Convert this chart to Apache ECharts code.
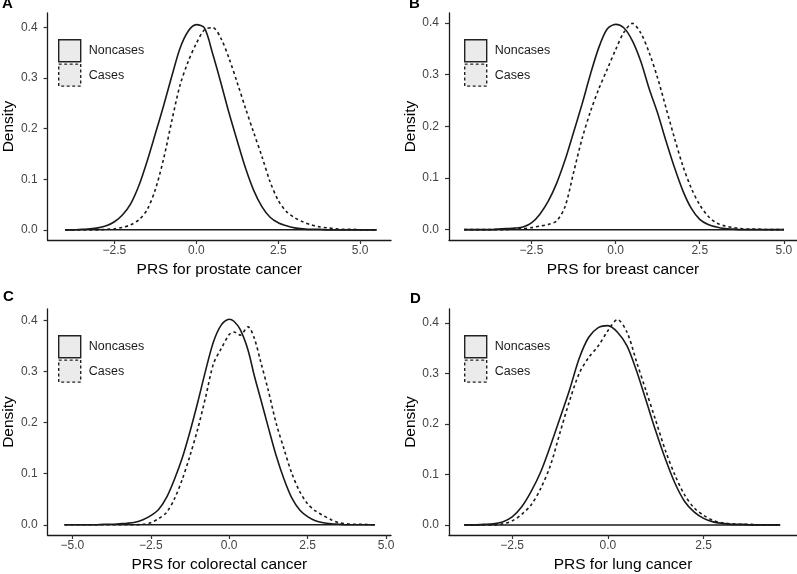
<!DOCTYPE html>
<html>
<head>
<meta charset="utf-8">
<script src="https://cdn.jsdelivr.net/npm/echarts@6/dist/echarts.min.js"></script>
<style>
  html, body { margin: 0; padding: 0; background: #fff; }
  #chart { width: 797px; height: 574px; }
</style>
</head>
<body>
<div id="chart"></div>
<script>
const xA = [-4, -3.75, -3.5, -3.25, -3, -2.75, -2.5, -2.25, -2, -1.75, -1.5, -1.25, -1, -0.75, -0.5, -0.25,
  0, 0.25, 0.5, 0.75, 1, 1.25, 1.5, 1.75, 2, 2.25, 2.5, 2.75, 3, 3.25, 3.5, 3.75, 4, 4.25, 4.5, 4.75, 5, 5.25, 5.5];
const noncasesA = [0, 0, 0.001, 0.002, 0.004, 0.008, 0.016, 0.030, 0.052, 0.088, 0.136, 0.190, 0.245, 0.303, 0.358, 0.392,
  0.405, 0.398, 0.347, 0.290, 0.230, 0.175, 0.122, 0.078, 0.046, 0.025, 0.014, 0.008, 0.004, 0.002, 0.001, 0.001, 0, 0, 0, 0, 0, 0, 0];
const casesA = [0, 0, 0, 0, 0, 0.001, 0.002, 0.005, 0.010, 0.020, 0.040, 0.080, 0.140, 0.215, 0.285, 0.332,
  0.368, 0.395, 0.399, 0.378, 0.338, 0.290, 0.240, 0.192, 0.145, 0.095, 0.058, 0.036, 0.024, 0.016, 0.010, 0.006, 0.004, 0.002, 0.001, 0.001, 0, 0, 0];

const xB = [-4.5, -4.25, -4, -3.75, -3.5, -3.25, -3, -2.75, -2.5, -2.25, -2, -1.75, -1.5, -1.25, -1, -0.75, -0.5, -0.25,
  0, 0.25, 0.5, 0.75, 1, 1.25, 1.5, 1.75, 2, 2.25, 2.5, 2.75, 3, 3.25, 3.5, 3.75, 4, 4.25, 4.5, 4.75, 5];
const noncasesB = [0, 0, 0, 0, 0.001, 0.002, 0.003, 0.005, 0.013, 0.030, 0.055, 0.090, 0.135, 0.188, 0.242, 0.300, 0.352, 0.388,
  0.397, 0.390, 0.365, 0.325, 0.272, 0.225, 0.171, 0.120, 0.075, 0.041, 0.020, 0.010, 0.005, 0.002, 0.001, 0, 0, 0, 0, 0, 0];
const casesB = [0, 0, 0, 0, 0, 0, 0.001, 0.002, 0.004, 0.007, 0.010, 0.017, 0.045, 0.110, 0.175, 0.228, 0.272, 0.310,
  0.348, 0.382, 0.399, 0.380, 0.342, 0.293, 0.235, 0.177, 0.123, 0.080, 0.048, 0.026, 0.013, 0.007, 0.004, 0.002, 0.001, 0.001, 0, 0, 0];

const xC = [-5.25, -5, -4.75, -4.5, -4.25, -4, -3.75, -3.5, -3.25, -3, -2.75, -2.5, -2.25, -2, -1.75, -1.5, -1.25, -1, -0.75, -0.5, -0.25,
  0, 0.15, 0.35, 0.6, 0.8, 1, 1.25, 1.5, 1.75, 2, 2.25, 2.5, 2.75, 3, 3.25, 3.5, 3.75, 4, 4.25, 4.5, 4.65];
const noncasesC = [0, 0, 0, 0, 0, 0.001, 0.001, 0.002, 0.003, 0.005, 0.010, 0.018, 0.030, 0.053, 0.088, 0.130, 0.182, 0.240, 0.302, 0.358, 0.391,
  0.402, 0.398, 0.382, 0.342, 0.292, 0.247, 0.190, 0.135, 0.089, 0.052, 0.029, 0.016, 0.008, 0.004, 0.002, 0.001, 0, 0, 0, 0, 0];
const casesC = [0, 0, 0, 0, 0, 0, 0, 0, 0, 0, 0.001, 0.004, 0.012, 0.024, 0.050, 0.088, 0.135, 0.188, 0.250, 0.315, 0.345,
  0.372, 0.377, 0.371, 0.387, 0.365, 0.320, 0.262, 0.198, 0.148, 0.100, 0.065, 0.041, 0.027, 0.018, 0.010, 0.004, 0.002, 0.001, 0.001, 0, 0];

const xD = [-3.75, -3.5, -3.25, -3, -2.75, -2.5, -2.25, -2, -1.75, -1.5, -1.25, -1, -0.75, -0.5, -0.25,
  0, 0.25, 0.5, 0.75, 1, 1.25, 1.5, 1.75, 2, 2.25, 2.5, 2.75, 3, 3.25, 3.5, 3.75, 4, 4.25, 4.5];
const noncasesD = [0, 0, 0.001, 0.002, 0.006, 0.016, 0.036, 0.067, 0.106, 0.157, 0.212, 0.268, 0.330, 0.372, 0.391,
  0.395, 0.382, 0.355, 0.305, 0.246, 0.186, 0.131, 0.083, 0.047, 0.026, 0.013, 0.006, 0.003, 0.001, 0.001, 0, 0, 0, 0];
const casesD = [0, 0, 0, 0, 0.002, 0.008, 0.021, 0.040, 0.073, 0.118, 0.183, 0.246, 0.300, 0.332, 0.355,
  0.385, 0.407, 0.382, 0.323, 0.265, 0.207, 0.148, 0.099, 0.060, 0.034, 0.019, 0.009, 0.004, 0.002, 0.001, 0.001, 0, 0, 0];

const yTicks = [0, 0.1, 0.2, 0.3, 0.4];
const xTicksA = [-2.5, 0, 2.5, 5];
const xTicksB = [-5, -2.5, 0, 2.5, 5];
const xTicksC = [-5, -2.5, 0, 2.5, 5];
const xTicksD = [-2.5, 0, 2.5];
const letters = ['A', 'B', 'C', 'D'];
const xTitles = ['PRS for prostate cancer', 'PRS for breast cancer', 'PRS for colorectal cancer', 'PRS for lung cancer'];
const groupNames = ['Noncases', 'Cases'];

const FONT = '"Liberation Sans", Arial, sans-serif';
const INK = '#1a1a1a';

// layout of the 4 panels (pixels) + axis limits
const panels = [
  { x: xA, non: noncasesA, cas: casesA, ticks: xTicksA, xmin: -4.54, xmax: 5.94, ymax: 0.428, left: 43, top: 13, width: 348 },
  { x: xB, non: noncasesB, cas: casesB, ticks: xTicksB, xmin: -4.95, xmax: 5.39, ymax: 0.419, left: 449, top: 13, width: 348 },
  { x: xC, non: noncasesC, cas: casesC, ticks: xTicksC, xmin: -5.79, xmax: 5.16, ymax: 0.422, left: 43, top: 309, width: 348 },
  { x: xD, non: noncasesD, cas: casesD, ticks: xTicksD, xmin: -4.15, xmax: 4.94, ymax: 0.428, left: 449, top: 309, width: 348 }
];
const letterPos = [[2, -4], [409, -4], [3, 289], [410, 291]];

const fmt = v => (v < 0 ? '\u2212' : '') + Math.abs(v).toFixed(1);

const grid = [], xAxis = [], yAxis = [], series = [], legend = [], title = [];

panels.forEach((p, i) => {
  grid.push({ left: p.left, top: p.top, width: p.width, height: 227, containLabel: false });

  xAxis.push({
    type: 'value', gridIndex: i, min: p.xmin, max: p.xmax,
    name: xTitles[i], nameLocation: 'middle', nameGap: 22,
    nameTextStyle: { fontSize: 15.5, color: '#000', fontFamily: FONT },
    axisLine: { show: true, onZero: false, lineStyle: { color: INK, width: 1.3 } },
    axisTick: { show: true, length: 4, customValues: p.ticks, lineStyle: { color: '#333', width: 1.2 } },
    axisLabel: { customValues: p.ticks, formatter: fmt, fontSize: 12, color: '#444', margin: 5, fontFamily: FONT },
    splitLine: { show: false }
  });

  yAxis.push({
    type: 'value', gridIndex: i, min: -0.02, max: p.ymax,
    name: 'Density', nameLocation: 'middle', nameGap: 30, nameRotate: 90,
    nameTextStyle: { fontSize: 15.5, color: '#000', fontFamily: FONT },
    axisLine: { show: true, onZero: false, lineStyle: { color: INK, width: 1.3 } },
    axisTick: { show: true, length: 4, customValues: yTicks, lineStyle: { color: '#333', width: 1.2 } },
    axisLabel: { customValues: yTicks, formatter: v => v.toFixed(1), fontSize: 12, color: '#444', margin: 10, fontFamily: FONT },
    splitLine: { show: false }
  });

  // bottom edge of the density outline
  series.push({
    name: 'baseline', type: 'line', xAxisIndex: i, yAxisIndex: i, silent: true,
    data: [[p.x[0], 0], [p.x[p.x.length - 1], 0]],
    symbol: 'none', lineStyle: { color: INK, width: 1.5 }
  });
  series.push({
    name: groupNames[0], type: 'line', xAxisIndex: i, yAxisIndex: i,
    data: p.x.map((v, k) => [v, p.non[k]]),
    smooth: 0.3, symbol: 'none', itemStyle: { color: INK },
    lineStyle: { color: INK, width: 1.6 }
  });
  series.push({
    name: groupNames[1], type: 'line', xAxisIndex: i, yAxisIndex: i,
    data: p.x.map((v, k) => [v, p.cas[k]]),
    smooth: 0.3, symbol: 'none', itemStyle: { color: INK },
    lineStyle: { color: INK, width: 1.6, type: [3, 3] }
  });

  legend.push({
    orient: 'vertical', left: p.left + 15, top: p.top + 26, padding: 0,
    itemWidth: 22, itemHeight: 22, itemGap: 1, selectedMode: false,
    textStyle: { fontSize: 12.5, color: INK, fontFamily: FONT, padding: [0, 0, 0, 3] },
    data: [
      { name: groupNames[0], icon: 'rect', itemStyle: { color: '#ebebeb', borderColor: '#222', borderWidth: 1.4, borderType: 'solid' } },
      { name: groupNames[1], icon: 'rect', itemStyle: { color: '#ebebeb', borderColor: '#222', borderWidth: 1.4, borderType: [3, 2.5] } }
    ]
  });

  title.push({
    text: letters[i], left: letterPos[i][0], top: letterPos[i][1], padding: 0,
    textStyle: { fontSize: 15, fontWeight: 'bold', color: '#000', fontFamily: FONT }
  });
});

const chart = echarts.init(document.getElementById('chart'));
chart.setOption({
  animation: false,
  backgroundColor: '#fff',
  title: title,
  legend: legend,
  grid: grid,
  xAxis: xAxis,
  yAxis: yAxis,
  series: series
});
</script>
</body>
</html>
